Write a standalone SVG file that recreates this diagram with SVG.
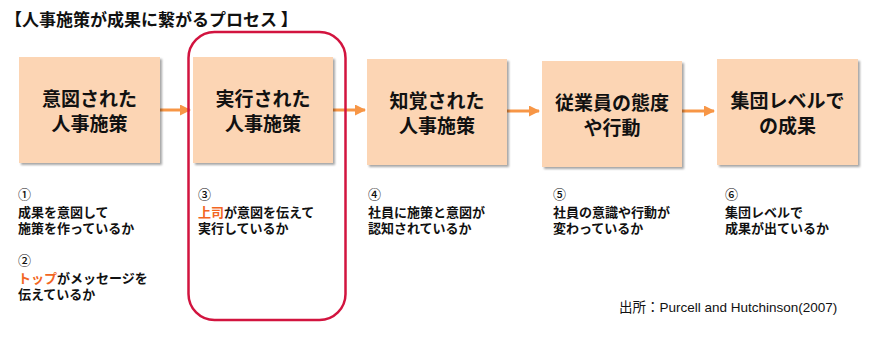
<svg xmlns="http://www.w3.org/2000/svg" width="895" height="350" viewBox="0 0 895 350">
<defs>
<style>
.t{font-family:"Noto Sans CJK JP","Noto Sans",sans-serif;fill:#111;}
.title{font-size:17px;font-weight:700;}
.box{fill:#FCD5B4;filter:url(#sh);}
.bt{font-size:19px;font-weight:700;text-anchor:middle;}
.nt{font-size:13px;font-weight:700;}
.num{font-weight:500;}
.hl{fill:#F26522;}
.cite{font-family:"Liberation Sans","Noto Sans CJK JP",sans-serif;font-size:13.5px;fill:#111;}
.arr{stroke:#F79646;stroke-width:3;fill:none;marker-end:url(#ah);}
</style>
<filter id="sh" x="-10%" y="-10%" width="125%" height="125%">
<feDropShadow dx="2" dy="2" stdDeviation="1.3" flood-color="#000" flood-opacity="0.35"/>
</filter>
<marker id="ah" markerUnits="userSpaceOnUse" markerWidth="12" markerHeight="12" refX="10" refY="5.5" orient="auto">
<path d="M0,0 L11,5.5 L0,11 z" fill="#F79646"/>
</marker>
</defs>
<rect width="895" height="350" fill="#fff"/>
<text class="t title" x="5" y="26">【人事施策が成果に繋がるプロセス 】</text>

<g id="connectors">
<line class="arr" x1="160" y1="110" x2="190" y2="110"/>
<line class="arr" x1="333" y1="110" x2="365" y2="110"/>
<line class="arr" x1="507" y1="111" x2="539" y2="111"/>
<line class="arr" x1="682" y1="111" x2="714" y2="111"/>
</g>

<g id="node1">
<rect class="box" x="19" y="57" width="141" height="106"/>
<text class="t bt" x="89.5" y="106">意図された<tspan x="89.5" dy="25">人事施策</tspan></text>
</g>
<g id="node2">
<rect class="box" x="193" y="57" width="140" height="106"/>
<text class="t bt" x="263" y="106">実行された<tspan x="263" dy="25">人事施策</tspan></text>
</g>
<g id="node3">
<rect class="box" x="367" y="59" width="140" height="106"/>
<text class="t bt" x="437" y="108">知覚された<tspan x="437" dy="25">人事施策</tspan></text>
</g>
<g id="node4">
<rect class="box" x="542" y="61" width="140" height="106"/>
<text class="t bt" x="612" y="110">従業員の態度<tspan x="612" dy="25">や行動</tspan></text>
</g>
<g id="node5">
<rect class="box" x="717" y="59" width="141" height="106"/>
<text class="t bt" x="787.5" y="108">集団レベルで<tspan x="787.5" dy="25">の成果</tspan></text>
</g>

<g id="highlight">
<rect x="188.5" y="32" width="157" height="288" rx="26" ry="26" fill="none" stroke="#D2143F" stroke-width="2.5"/>
</g>

<g id="note1">
<text class="t nt" x="18" y="199"><tspan class="num">①</tspan><tspan x="18" dy="18">成果を意図して</tspan><tspan x="18" dy="16">施策を作っているか</tspan></text>
<text class="t nt" x="18" y="265"><tspan class="num">②</tspan><tspan x="18" dy="18"><tspan class="hl">トップ</tspan>がメッセージを</tspan><tspan x="18" dy="16">伝えているか</tspan></text>
</g>
<g id="note3">
<text class="t nt" x="198" y="199"><tspan class="num">③</tspan><tspan x="198" dy="18"><tspan class="hl">上司</tspan>が意図を伝えて</tspan><tspan x="198" dy="16">実行しているか</tspan></text>
</g>
<g id="note4">
<text class="t nt" x="368" y="199"><tspan class="num">④</tspan><tspan x="368" dy="18">社員に施策と意図が</tspan><tspan x="368" dy="16">認知されているか</tspan></text>
</g>
<g id="note5">
<text class="t nt" x="553" y="199"><tspan class="num">⑤</tspan><tspan x="553" dy="18">社員の意識や行動が</tspan><tspan x="553" dy="16">変わっているか</tspan></text>
</g>
<g id="note6">
<text class="t nt" x="725" y="199"><tspan class="num">⑥</tspan><tspan x="725" dy="18">集団レベルで</tspan><tspan x="725" dy="16">成果が出ているか</tspan></text>
</g>

<text class="cite" x="619" y="312">出所：Purcell and Hutchinson(2007)</text>
</svg>
